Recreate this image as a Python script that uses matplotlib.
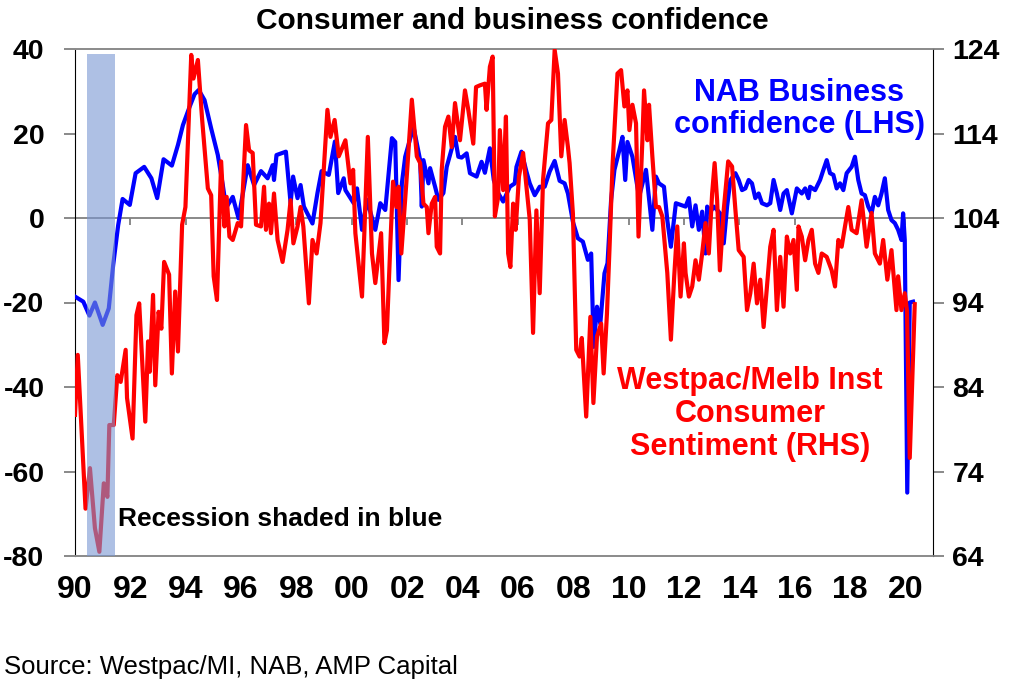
import matplotlib
matplotlib.use('Agg')
import matplotlib.pyplot as plt

plt.rcParams['font.family'] = ['Liberation Sans', 'DejaVu Sans']

# NAB business confidence (left axis)
nab_years = [
    1990.00, 1990.30, 1990.52, 1990.72, 1991.00, 1991.22, 1991.38, 1991.56, 1991.72, 1991.98,
    1992.19, 1992.50, 1992.76, 1992.97, 1993.20, 1993.50, 1993.72, 1993.90, 1994.14, 1994.32,
    1994.47, 1994.68, 1994.92, 1995.16, 1995.34, 1995.46, 1995.70, 1995.91, 1996.24, 1996.47,
    1996.72, 1996.96, 1997.14, 1997.19, 1997.28, 1997.62, 1997.79, 1997.88, 1998.04, 1998.15,
    1998.27, 1998.58, 1998.76, 1998.91, 1999.17, 1999.39, 1999.51, 1999.71, 1999.77, 2000.07,
    2000.19, 2000.37, 2000.55, 2000.85, 2001.03, 2001.21, 2001.45, 2001.57, 2001.69, 2001.81,
    2001.93, 2002.23, 2002.47, 2002.53, 2002.59, 2002.77, 2002.83, 2003.01, 2003.13, 2003.31,
    2003.43, 2003.73, 2003.85, 2003.97, 2004.15, 2004.27, 2004.51, 2004.69, 2004.81, 2004.99,
    2005.13, 2005.29, 2005.47, 2005.71, 2005.89, 2005.95, 2006.13, 2006.31, 2006.43, 2006.61,
    2006.79, 2006.97, 2007.15, 2007.33, 2007.51, 2007.69, 2007.81, 2007.99, 2008.17, 2008.35,
    2008.53, 2008.65, 2008.74, 2008.86, 2008.98, 2009.13, 2009.24, 2009.37, 2009.49, 2009.67,
    2009.78, 2009.88, 2009.96, 2010.14, 2010.38, 2010.63, 2010.86, 2010.99, 2011.10, 2011.28,
    2011.40, 2011.53, 2011.71, 2011.88, 2012.06, 2012.18, 2012.30, 2012.42, 2012.54, 2012.66,
    2012.78, 2012.84, 2012.96, 2013.08, 2013.20, 2013.32, 2013.44, 2013.56, 2013.68, 2013.86,
    2013.98, 2014.10, 2014.22, 2014.34, 2014.46, 2014.58, 2014.70, 2014.82, 2015.00, 2015.12,
    2015.24, 2015.36, 2015.48, 2015.60, 2015.72, 2015.90, 2016.08, 2016.26, 2016.38, 2016.50,
    2016.56, 2016.74, 2016.92, 2017.04, 2017.16, 2017.28, 2017.40, 2017.52, 2017.64, 2017.76,
    2017.88, 2018.06, 2018.18, 2018.30, 2018.42, 2018.54, 2018.66, 2018.78, 2018.90, 2019.02,
    2019.14, 2019.26, 2019.38, 2019.50, 2019.62, 2019.74, 2019.86, 2019.92, 2019.98, 2020.07,
    2020.16, 2020.28,
]
nab_conf = [
    -18.6, -19.8, -23.1, -20.0, -25.3, -21.4, -11.1, -1.7, 4.5, 3.1,
    10.6, 12.1, 9.4, 4.7, 13.9, 12.4, 17.3, 22.0, 26.3, 29.3,
    30.3, 27.9, 21.2, 14.9, 7.8, 2.4, 5.0, -0.1, 12.5, 7.8,
    11.1, 9.4, 12.5, 9.0, 14.9, 15.7, 3.5, 9.8, 4.7, 7.8,
    2.7, -1.3, 5.9, 11.1, 10.2, 18.1, 5.9, 9.4, 6.6, 3.5,
    7.0, -2.8, 4.3, -2.8, 3.5, 1.9, 18.9, 18.0, -14.7, 8.2,
    14.5, 21.6, 13.7, 2.7, 13.7, 8.2, 11.8, 7.4, 4.3, 5.9,
    12.1, 19.2, 14.5, 14.3, 15.3, 10.6, 9.8, 13.3, 10.7, 16.5,
    9.0, 5.9, 3.9, 7.4, 8.2, 12.1, 15.7, 11.0, 8.2, 5.4,
    7.4, 7.4, 11.0, 13.5, 8.8, 8.2, 5.8, -0.9, -4.8, -5.6,
    -9.9, -8.4, -30.5, -21.0, -25.0, -13.1, -10.7, 4.3, 11.4, 16.1,
    19.2, 9.0, 18.0, 14.5, 5.0, 11.4, -2.8, 9.8, 8.2, 7.4,
    -0.5, -6.8, 3.5, 3.1, 2.7, 4.7, -2.0, 3.0, -2.8, 1.5,
    -8.4, 2.7, 1.5, 2.7, 1.9, 1.0, -6.0, 2.7, 9.0, 10.6,
    9.0, 6.6, 7.0, 9.0, 8.2, 4.7, 5.8, 3.5, 3.0, 3.5,
    9.0, 5.8, 1.9, 5.8, 6.6, 1.1, 7.0, 5.8, 7.0, 4.7,
    7.4, 6.6, 9.0, 11.4, 13.7, 10.6, 10.2, 7.0, 8.2, 6.6,
    10.6, 12.1, 14.5, 9.0, 5.8, 5.4, 2.7, 1.1, 5.0, 3.0,
    5.8, 9.4, 1.9, -0.5, -1.2, -2.8, -5.2, 1.1, -5.2, -65.0,
    -20.0, -19.8,
]

# Westpac/Melbourne Institute consumer sentiment (right axis)
wmi_years = [
    1990.00, 1990.10, 1990.38, 1990.54, 1990.72, 1990.88, 1991.04, 1991.17, 1991.24, 1991.40,
    1991.53, 1991.65, 1991.83, 1991.88, 1992.08, 1992.22, 1992.32, 1992.54, 1992.64, 1992.70,
    1992.82, 1992.90, 1993.02, 1993.12, 1993.22, 1993.40, 1993.50, 1993.62, 1993.72, 1993.87,
    1993.99, 1994.20, 1994.28, 1994.44, 1994.59, 1994.80, 1994.92, 1995.01, 1995.13, 1995.28,
    1995.40, 1995.48, 1995.58, 1995.70, 1995.88, 1996.00, 1996.18, 1996.29, 1996.42, 1996.54,
    1996.72, 1996.83, 1996.90, 1997.01, 1997.08, 1997.19, 1997.32, 1997.50, 1997.68, 1997.79,
    1997.89, 1998.04, 1998.15, 1998.25, 1998.45, 1998.58, 1998.73, 1998.87, 1999.12, 1999.23,
    1999.38, 1999.53, 1999.77, 1999.95, 2000.05, 2000.13, 2000.37, 2000.58, 2000.73, 2000.85,
    2001.06, 2001.18, 2001.27, 2001.39, 2001.49, 2001.61, 2001.69, 2001.79, 2001.97, 2002.17,
    2002.35, 2002.47, 2002.59, 2002.71, 2002.77, 2002.89, 2003.01, 2003.07, 2003.19, 2003.25,
    2003.37, 2003.49, 2003.61, 2003.73, 2003.91, 2004.09, 2004.21, 2004.39, 2004.49, 2004.63,
    2004.81, 2004.87, 2004.99, 2005.09, 2005.17, 2005.29, 2005.35, 2005.47, 2005.57, 2005.65,
    2005.73, 2005.83, 2005.92, 2006.04, 2006.19, 2006.31, 2006.43, 2006.55, 2006.67, 2006.79,
    2006.91, 2007.09, 2007.21, 2007.33, 2007.45, 2007.57, 2007.69, 2007.81, 2007.87, 2007.99,
    2008.11, 2008.23, 2008.31, 2008.47, 2008.62, 2008.73, 2008.86, 2009.01, 2009.10, 2009.22,
    2009.31, 2009.42, 2009.60, 2009.73, 2009.85, 2009.96, 2010.03, 2010.14, 2010.27, 2010.36,
    2010.50, 2010.56, 2010.68, 2010.74, 2010.86, 2010.99, 2011.10, 2011.22, 2011.40, 2011.53,
    2011.65, 2011.76, 2011.88, 2012.00, 2012.06, 2012.18, 2012.30, 2012.42, 2012.54, 2012.66,
    2012.78, 2012.90, 2013.02, 2013.11, 2013.20, 2013.30, 2013.44, 2013.60, 2013.74, 2013.86,
    2013.98, 2014.16, 2014.28, 2014.40, 2014.52, 2014.64, 2014.76, 2014.88, 2015.00, 2015.12,
    2015.24, 2015.36, 2015.48, 2015.60, 2015.72, 2015.84, 2015.96, 2016.08, 2016.14, 2016.26,
    2016.38, 2016.50, 2016.62, 2016.74, 2016.86, 2016.98, 2017.16, 2017.34, 2017.46, 2017.58,
    2017.70, 2017.82, 2017.94, 2018.06, 2018.24, 2018.42, 2018.60, 2018.78, 2018.90, 2019.08,
    2019.20, 2019.35, 2019.50, 2019.68, 2019.74, 2019.86, 2019.98, 2020.06, 2020.16, 2020.34,
]
wmi_sent = [
    80.7, 87.8, 69.6, 74.4, 67.3, 64.5, 72.6, 71.0, 79.5, 79.5,
    85.4, 84.6, 88.4, 82.7, 77.9, 92.5, 93.9, 79.9, 89.4, 85.8,
    94.9, 84.2, 92.9, 90.9, 98.8, 97.3, 85.6, 95.3, 88.2, 103.2,
    105.3, 123.3, 120.5, 122.7, 115.8, 107.5, 106.7, 97.1, 94.3, 110.7,
    103.0, 106.5, 101.8, 101.4, 103.4, 103.0, 115.0, 112.0, 111.7, 103.2,
    103.0, 107.7, 102.6, 105.7, 102.2, 106.9, 101.4, 98.8, 102.6, 106.1,
    101.0, 103.0, 105.3, 103.0, 93.9, 101.4, 99.8, 103.4, 116.8, 113.6,
    115.6, 111.3, 113.2, 108.1, 109.7, 102.2, 94.7, 113.6, 99.8, 96.3,
    102.2, 89.2, 90.7, 100.6, 108.3, 105.3, 107.7, 99.8, 108.1, 118.0,
    111.3, 110.5, 105.7, 105.3, 102.2, 105.7, 106.5, 100.6, 99.8, 109.7,
    114.8, 116.0, 112.4, 117.6, 113.2, 119.1, 116.8, 112.8, 119.5, 119.7,
    119.9, 116.8, 121.9, 123.1, 104.2, 106.5, 114.4, 107.3, 116.0, 99.8,
    98.2, 105.7, 102.6, 108.9, 111.7, 107.7, 103.8, 90.4, 104.9, 95.1,
    108.5, 115.2, 115.6, 123.9, 121.1, 111.3, 115.6, 112.4, 110.5, 104.5,
    88.4, 87.6, 89.8, 80.5, 92.3, 82.1, 90.0, 91.5, 85.6, 92.7,
    100.2, 110.1, 121.1, 121.5, 117.2, 119.1, 114.4, 117.4, 115.2, 101.8,
    113.2, 119.1, 113.2, 117.4, 111.3, 105.3, 105.3, 104.2, 97.5, 89.6,
    97.1, 103.0, 94.7, 101.0, 97.5, 94.7, 95.9, 99.0, 96.7, 99.8,
    103.4, 99.8, 106.9, 110.5, 106.1, 97.8, 105.0, 110.7, 110.1, 105.0,
    100.2, 99.4, 93.1, 95.1, 98.6, 93.9, 96.7, 91.1, 95.9, 100.6,
    102.6, 93.1, 99.4, 93.5, 101.8, 99.8, 101.4, 95.5, 103.0, 101.8,
    99.0, 101.4, 102.6, 98.6, 97.5, 99.8, 99.4, 97.8, 95.9, 101.4,
    100.6, 103.0, 105.3, 102.6, 102.2, 106.1, 100.6, 104.6, 99.8, 98.6,
    101.4, 96.7, 100.2, 93.1, 97.1, 93.1, 95.1, 93.0, 75.6, 93.8,
]

recession_start = 1990.42
recession_end = 1991.43

x_ticks = list(range(1990, 2021, 2))
x_labels = ['90', '92', '94', '96', '98', '00', '02', '04', '06', '08',
            '10', '12', '14', '16', '18', '20']
left_ticks = [40, 20, 0, -20, -40, -60, -80]
right_ticks = [124, 114, 104, 94, 84, 74, 64]

W, H = 1024, 694
fig = plt.figure(figsize=(W / 100, H / 100), dpi=100)
ax = fig.add_axes([75 / W, 138 / H, 858 / W, 507 / H])
ax2 = ax.twinx()

ax.axhline(0, color='#808080', lw=1.3, zorder=1)
ax.vlines(x_ticks, -1.6, 0, color='#808080', lw=1.3, zorder=1)
ax.plot(nab_years, nab_conf, color='#0000FF', lw=3.0, zorder=3)
ax2.plot(wmi_years, wmi_sent, color='#FF0000', lw=3.0, zorder=3)
ax2.axvspan(recession_start, recession_end, ymin=0, ymax=0.99,
            color='#7896D2', alpha=0.6, lw=0, zorder=5)

ax.set_xlim(1990, 2021)
ax.set_ylim(-80, 40)
ax2.set_ylim(64, 124)

for a in (ax, ax2):
    a.spines['top'].set_color('#8c8c8c')
    a.spines['bottom'].set_color('#8c8c8c')
    a.spines['top'].set_linewidth(1.3)
    a.spines['bottom'].set_linewidth(1.3)
ax.spines['left'].set_color('black')
ax2.spines['right'].set_color('black')
ax2.spines['left'].set_visible(False)
ax.spines['right'].set_visible(False)

ax.set_yticks(left_ticks, [str(t) for t in left_ticks], fontsize=20.5, fontweight='bold')
ax2.set_yticks(right_ticks, [str(t) for t in right_ticks], fontsize=20.5, fontweight='bold')
ax.tick_params(axis='y', direction='out', length=8, width=1.3, color='#808080', pad=14)
ax2.tick_params(axis='y', direction='out', length=8, width=1.3, color='#808080', pad=6)

ax.set_xticks(x_ticks, x_labels, fontsize=23, fontweight='bold',
              family=['Liberation Sans Narrow', 'Liberation Sans'])
ax.tick_params(axis='x', length=0, pad=14)

fig.text(512 / W, 1 - 21 / H, 'Consumer and business confidence',
         ha='center', va='center', fontsize=21.5, fontweight='bold')
fig.text(799 / W, 1 - 109 / H, 'NAB Business\nconfidence (LHS)', color='#0000FF',
         ha='center', va='center', fontsize=22, fontweight='bold', linespacing=1.1)
fig.text(750 / W, 1 - 414 / H, 'Westpac/Melb Inst\nConsumer\nSentiment (RHS)',
         color='#FF0000', ha='center', va='center', fontsize=22, fontweight='bold',
         linespacing=1.15)
fig.text(118 / W, 1 - 519 / H, 'Recession shaded in blue', ha='left', va='center',
         fontsize=19, fontweight='bold')
fig.text(4 / W, 1 - 667 / H, 'Source: Westpac/MI, NAB, AMP Capital', ha='left',
         va='center', fontsize=18.5)

fig.savefig('out.png', dpi=100)
